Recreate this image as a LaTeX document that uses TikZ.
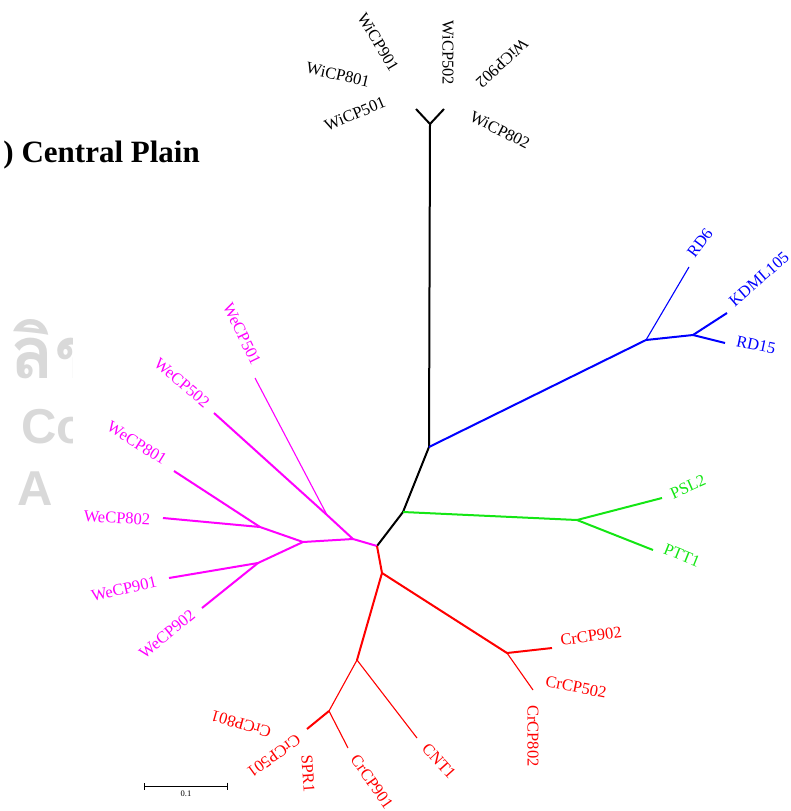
\documentclass[tikz,border=0pt]{standalone}
\usepackage{fontspec}
\setmainfont{Liberation Serif}
\newfontfamily\thaifont[Script=Thai]{Loma}
\newfontfamily\marksans{Liberation Sans}
\usetikzlibrary{arrows.meta}

\definecolor{wegrp}{RGB}{255,0,255}
\definecolor{crgrp}{RGB}{255,0,0}
\definecolor{rdgrp}{RGB}{0,0,255}
\definecolor{psgrp}{RGB}{20,230,20}
\definecolor{marktone}{RGB}{217,217,217}

\tikzset{
	branch/.style={line width=2pt},
	twig/.style={line width=1.1pt},
	taxon/.style={inner sep=0pt, font=\fontsize{16.5}{18}\selectfont},
	markword/.style={anchor=base west, inner sep=0pt, text=marktone, font=\marksans\bfseries\fontsize{49}{55}\selectfont},
	scalebar/.style={line width=0.8pt, {Bar[width=7pt]}-{Bar[width=7pt]}},
}

\begin{document}
\begin{tikzpicture}[x=1pt, y=-1pt]
			\useasboundingbox (0,0) rectangle (791,811);
			\clip (0,0) rectangle (791,811);
			\begin{scope}
				\clip (0,300) rectangle (72,520);
				\node[anchor=base west, inner sep=0pt, text=marktone, font=\thaifont\bfseries\fontsize{72}{80}\selectfont] (markth) at (10,378) {ลิข};
				\node[markword] (markco) at (21,443) {Co};
				\node[markword] (markal) at (17,505) {A};
			\end{scope}
			\node[anchor=base east, inner sep=0pt, font=\bfseries\fontsize{31}{34}\selectfont] (title) at (200,162) {) Central Plain};

			\coordinate (mid) at (377,546);
			\coordinate (gj) at (403,512);
			\coordinate (bj) at (429,447);
			\coordinate (wj) at (430,124);
			\coordinate (wl) at (416,109);
			\coordinate (wr) at (444,109);
			\draw[branch] (mid) -- (gj) -- (bj) -- (wj) -- (wl);
			\draw[branch] (wj) -- (wr);
			\node[taxon, rotate=-59] (wicp901) at (378,42) {WiCP901};
			\node[taxon, rotate=-90] (wicp502) at (448,53) {WiCP502};
			\node[taxon, rotate=-137] (wicp902) at (502,63) {WiCP902};
			\node[taxon, rotate=-13] (wicp801) at (338,75) {WiCP801};
			\node[taxon, rotate=23] (wicp501) at (355,114) {WiCP501};
			\node[taxon, rotate=-27] (wicp802) at (500,130) {WiCP802};

			\coordinate (b1) at (646,340);
			\coordinate (b2) at (693,335);
			\coordinate (rd6tip) at (689,267);
			\coordinate (kdmltip) at (727,313);
			\coordinate (rd15tip) at (725,343);
			\draw[rdgrp, branch] (bj) -- (b1) -- (b2) -- (kdmltip);
			\draw[rdgrp, branch] (b2) -- (rd15tip);
			\draw[rdgrp, twig] (b1) -- (rd6tip);
			\node[taxon, text=rdgrp, rotate=53] (rd6) at (700,243) {RD6};
			\node[taxon, text=rdgrp, rotate=41] (kdml105) at (759,279) {KDML105};
			\node[taxon, text=rdgrp, rotate=-12] (rd15) at (756,345) {RD15};

			\coordinate (g1) at (577,520);
			\coordinate (psltip) at (662,498);
			\coordinate (ptttip) at (653,550);
			\draw[psgrp, branch] (gj) -- (g1) -- (psltip);
			\draw[psgrp, branch] (g1) -- (ptttip);
			\node[taxon, text=psgrp, rotate=24] (psl2) at (688,487) {PSL2};
			\node[taxon, text=psgrp, rotate=-22] (ptt1) at (682,555) {PTT1};

			\coordinate (m1) at (353,539);
			\coordinate (m2) at (327,515);
			\coordinate (m3) at (303,542);
			\coordinate (m4) at (260,527);
			\coordinate (m5) at (258,563);
			\coordinate (we501tip) at (255,378);
			\coordinate (we502tip) at (214,413);
			\coordinate (we801tip) at (174,471);
			\coordinate (we802tip) at (163,518);
			\coordinate (we901tip) at (169,578);
			\coordinate (we902tip) at (202,608);
			\draw[wegrp, branch] (mid) -- (m1) -- (m2) -- (we502tip);
			\draw[wegrp, twig] (m2) -- (we501tip);
			\draw[wegrp, branch] (m1) -- (m3) -- (m4) -- (we801tip);
			\draw[wegrp, branch] (m4) -- (we802tip);
			\draw[wegrp, branch] (m3) -- (m5) -- (we901tip);
			\draw[wegrp, branch] (m5) -- (we902tip);
			\node[taxon, text=wegrp, rotate=-64] (wecp501) at (242,334) {WeCP501};
			\node[taxon, text=wegrp, rotate=-40] (wecp502) at (182,383) {WeCP502};
			\node[taxon, text=wegrp, rotate=-32] (wecp801) at (137,443) {WeCP801};
			\node[taxon, text=wegrp, rotate=-3] (wecp802) at (117,518) {WeCP802};
			\node[taxon, text=wegrp, rotate=13] (wecp901) at (124,589) {WeCP901};
			\node[taxon, text=wegrp, rotate=39] (wecp902) at (167,634) {WeCP902};

			\coordinate (r1) at (382,573);
			\coordinate (r2) at (507,653);
			\coordinate (r3) at (357,660);
			\coordinate (r4) at (329,711);
			\coordinate (cr902tip) at (552,648);
			\coordinate (cr802tip) at (533,690);
			\coordinate (cnttip) at (417,738);
			\coordinate (cr901tip) at (348,748);
			\coordinate (sprtip) at (307,729);
			\draw[crgrp, branch] (mid) -- (r1) -- (r2) -- (cr902tip);
			\draw[crgrp, twig] (r2) -- (cr802tip);
			\draw[crgrp, branch] (r1) -- (r3);
			\draw[crgrp, twig] (r3) -- (cnttip);
			\draw[crgrp, twig] (r3) -- (r4) -- (cr901tip);
			\draw[crgrp, branch] (r4) -- (sprtip);
			\node[taxon, text=crgrp, rotate=8] (crcp902) at (591,636) {CrCP902};
			\node[taxon, text=crgrp, rotate=-11] (crcp502) at (576,687) {CrCP502};
			\node[taxon, text=crgrp, rotate=-90] (crcp802) at (533,736) {CrCP802};
			\node[taxon, text=crgrp, rotate=-48] (cnt1) at (439,761) {CNT1};
			\node[taxon, text=crgrp, rotate=-55] (crcp901) at (372,782) {CrCP901};
			\node[taxon, text=crgrp, rotate=-86] (spr1) at (308,774) {SPR1};
			\node[taxon, text=crgrp, rotate=-144] (crcp501) at (274,756) {CrCP501};
			\node[taxon, text=crgrp, rotate=164] (crcp801) at (241,724) {CrCP801};

			\coordinate (sbl) at (144,786);
			\coordinate (sbr) at (228,786);
			\draw[scalebar] (sbl) -- (sbr) node[midway, below=4pt, inner sep=0pt, font=\fontsize{8.5}{10}\selectfont] (sbtext) {0.1};
\end{tikzpicture}
\end{document}
